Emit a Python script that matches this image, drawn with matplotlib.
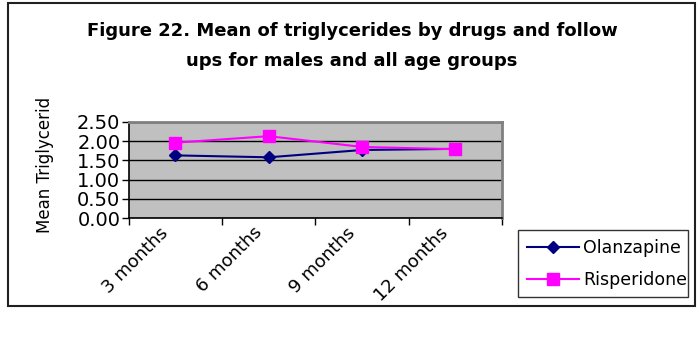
import matplotlib
matplotlib.use("Agg")
import matplotlib.pyplot as plt
import matplotlib.transforms as mtransforms
from matplotlib.patches import Rectangle

# values
follow_ups = ["3 months", "6 months", "9 months", "12 months"]
olanzapine = [1.63, 1.58, 1.77, 1.80]
risperidone = [1.96, 2.13, 1.85, 1.79]

plt.rcParams['font.family'] = ['DejaVu Sans']

fig = plt.figure(figsize=(7, 3.64), dpi=100)
ax = fig.add_axes([0.184, 0.401, 0.533, 0.264])

x = [i + 0.5 for i in range(len(follow_ups))]
ax.plot(x, olanzapine, color='#000080', marker='D', markersize=6, lw=1.5,
        label='Olanzapine', zorder=3)
ax.plot(x, risperidone, color='#FF00FF', marker='s', markersize=8, lw=1.5,
        label='Risperidone', zorder=4)

ax.set_facecolor('#C0C0C0')
ax.set_xlim(0, len(follow_ups))
ax.set_ylim(0, 2.5)
yt = [0, 0.5, 1.0, 1.5, 2.0, 2.5]
ax.set_yticks(yt)
ax.set_yticklabels(["%.2f" % v for v in yt], fontsize=14)
ax.yaxis.grid(True, color='black', lw=1)
ax.set_axisbelow(True)

ax.set_xticks(range(len(follow_ups) + 1))
ax.set_xticklabels([])
ax.set_xticks(x, minor=True)
ax.set_xticklabels(follow_ups, minor=True, rotation=45, ha='right',
                   va='top', fontsize=13, rotation_mode='anchor')
ax.tick_params(axis='x', which='minor', length=0, pad=4)
ax.tick_params(axis='both', which='major', length=5, width=1, color='black')
ax.tick_params(axis='y', pad=1)

# shift category labels left like the original
shift = mtransforms.ScaledTranslation(-16 / 100, 0, fig.dpi_scale_trans)
for lab in ax.get_xticklabels(minor=True):
    lab.set_transform(lab.get_transform() + shift)

for s in ['top', 'right']:
    ax.spines[s].set_color('#808080')
    ax.spines[s].set_linewidth(2)
for s in ['left', 'bottom']:
    ax.spines[s].set_color('black')
    ax.spines[s].set_linewidth(1.2)

fig.text(0.503, 0.915, "Figure 22. Mean of triglycerides by drugs and follow",
         ha='center', va='center', fontsize=13, fontweight='bold')
fig.text(0.503, 0.832, "ups for males and all age groups",
         ha='center', va='center', fontsize=13, fontweight='bold')

# y label is cut off at the top like the original
yl = fig.text(0.064, 0.36, "Mean Triglycerides", rotation=90, ha='center',
              va='bottom', fontsize=12)
clip = Rectangle((0, 0), 1, 0.733, transform=fig.transFigure, visible=False)
fig.add_artist(clip)
yl.set_clip_path(clip)

leg = fig.legend(loc='lower left', bbox_to_anchor=(0.74, 0.183, 0.243, 0.18),
                 mode='expand', fontsize=12.5, frameon=True, fancybox=False,
                 edgecolor='black', handlelength=3.0, borderpad=0.5,
                 labelspacing=0.8, handletextpad=0.25, borderaxespad=0)
leg.get_frame().set_linewidth(1)

border = Rectangle((0.011, 0.159), 0.982, 0.832, transform=fig.transFigure,
                   fill=False, edgecolor='#202020', lw=1.5)
fig.add_artist(border)

fig.savefig("out.png", dpi=100)
